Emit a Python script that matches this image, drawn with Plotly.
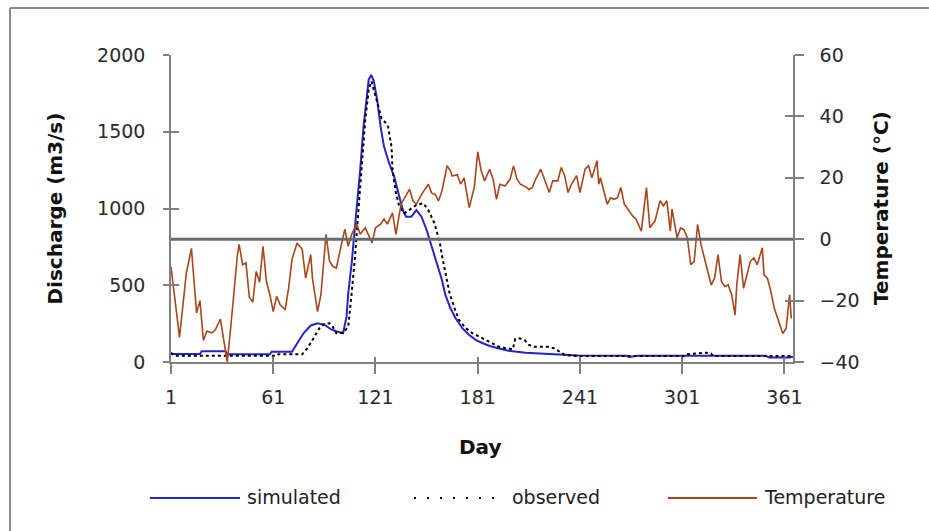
import plotly.graph_objects as go

# ---------------- data ----------------
temp_days = [1, 3, 6, 10, 13, 16, 18, 20, 22, 25, 27, 30, 32, 34, 36, 38, 40, 41, 43, 45,
             47, 49, 51, 53, 55, 57, 59, 61, 63, 65, 68, 70, 72, 75, 78, 80, 83, 84, 87, 89,
             91, 92, 94, 96, 98, 101, 103, 105, 107, 110, 112, 115, 119, 121, 124, 126, 128,
             131, 133, 136, 139, 141, 143, 145, 148, 152, 154, 156, 158, 160, 163, 165, 166,
             169, 171, 173, 176, 179, 181, 183, 185, 188, 190, 192, 194, 197, 200, 202, 204,
             206, 210, 211, 213, 215, 218, 220, 223, 225, 228, 230, 232, 234, 236, 239, 241,
             244, 246, 248, 251, 252, 253, 255, 257, 259, 261, 263, 265, 267, 269, 272, 274,
             277, 280, 282, 285, 288, 290, 292, 294, 295, 298, 300, 302, 304, 306, 308, 310,
             312, 315, 318, 320, 322, 324, 326, 328, 330, 332, 333, 335, 337, 339, 341, 343,
             345, 348, 349, 351, 353, 355, 357, 360, 362, 364, 365]
temp_c = [-9, -18, -32, -11, -3, -24, -20, -33, -30, -30.5, -29.5, -26, -33, -40, -29, -16,
          -5, -1.7, -8.3, -7.7, -19, -20.5, -10.5, -14, -2.3, -13.8, -18, -23.6, -18.6, -21.3,
          -23, -16, -6.6, -1.2, -3.3, -12.7, -5, -12.7, -23.6, -18, -2.8, 1.6, -7.2, -8.9,
          -9.4, -2.3, 3.3, -2.3, 1.6, 4.9, 1.6, 3.7, -1.2, 3.7, 4.9, 6.6, 4.9, 8.6, 1.6, 11.4,
          14.6, 16.3, 12.5, 11.4, 14.6, 17.9, 15, 14.6, 12.5, 15.7, 23.9, 22.3, 20.6, 21, 17.9,
          20, 10.3, 17, 28.5, 22.3, 19, 22.8, 19.6, 13, 17.9, 17.3, 19.6, 23.9, 19.6, 17.9,
          16.8, 16.2, 16.8, 19.6, 22.8, 19.6, 15.2, 19, 19, 23.4, 20.7, 15.2, 17.9, 20.7, 15.2,
          22.8, 23.9, 20, 25.6, 17.9, 20, 15.7, 11.4, 13.5, 13, 13.5, 16.8, 11.4, 9.7, 7.5,
          6.4, 2.6, 16.8, 3.7, 5.9, 12.5, 10.9, 12.5, 2.6, 9.8, 0.4, 3.7, 3.1, 0.4, -8.3, -7.3,
          4.8, -1.7, -8.3, -14.9, -12.7, -5, -13.8, -15.4, -14.9, -18.1, -24.7, -14.9, -5, -16,
          -11.6, -7.2, -6.1, -8.3, -2.8, -11.6, -12.7, -17, -22.5, -25.8, -30.7, -29, -18.1,
          -25.8]

sim_days = [1, 18, 19, 33, 34, 59, 60, 72, 75, 79, 83, 87, 91, 95, 98, 102, 104, 105, 107,
            110, 112, 114, 116, 117, 118.5, 120, 122, 124, 126, 129, 132, 135, 137, 139, 142,
            145, 148, 151, 154, 157, 160, 162, 165, 168, 172, 176, 180, 184, 188, 193, 199,
            209, 229, 240, 268, 270, 275, 350, 352, 364, 366]
sim_q = [52, 52, 70, 70, 50, 50, 67, 67, 120, 190, 238, 252, 243, 212, 200, 187, 295, 447,
         643, 990, 1251, 1533, 1750, 1840, 1870, 1830, 1707, 1533, 1403, 1295, 1207, 1077,
         990, 947, 947, 990, 947, 860, 751, 643, 534, 437, 350, 285, 220, 176, 143, 122, 104,
         89, 74, 61, 50, 42, 40, 33, 40, 40, 30, 30, 35]

obs_days = [1, 3, 63, 64, 78, 81, 84, 88, 91, 94, 96, 98, 102, 104, 105, 107, 109, 111, 113,
            115, 117, 118.6, 120.6, 122.5, 124.5, 126.4, 128.4, 130.4, 131, 133, 135, 138,
            142, 145, 149, 152, 155.6, 158.6, 160.5, 162.5, 164.5, 167.4, 170, 174, 178, 182,
            186, 190, 194, 201.6, 203, 205.6, 208.5, 211, 214, 222, 226, 229, 232, 240, 302,
            303, 312, 315, 318, 319, 366]
obs_q = [61, 41, 41, 50, 50, 89, 143, 219, 248, 252, 230, 187, 190, 215, 230, 447, 686, 990,
         1316, 1577, 1772, 1830, 1750, 1663, 1588, 1566, 1533, 1403, 1251, 1099, 1012, 969,
         1001, 1023, 1034, 990, 903, 784, 665, 556, 447, 350, 274, 220, 187, 165, 143, 122,
         96, 83, 150, 154, 143, 111, 100, 100, 89, 67, 46, 39, 39, 50, 55, 61, 55, 39, 39]

x_ticks = [1, 61, 121, 181, 241, 301, 361]
q_ticks = [0, 500, 1000, 1500, 2000]
t_ticks = [-40, -20, 0, 20, 40, 60]

# ---------------- styling ----------------
FONT = "DejaVu Sans"
BLUE = "#2424c8"
BROWN = "#a8461a"
AXIS = "#808080"

fig = go.Figure()
fig.add_trace(go.Scatter(x=sim_days, y=sim_q, mode="lines", name="simulated",
                         line=dict(color=BLUE, width=2), showlegend=False))
fig.add_trace(go.Scatter(x=obs_days, y=obs_q, mode="lines", name="observed",
                         line=dict(color="black", width=2, dash="dot"), showlegend=False))
fig.add_trace(go.Scatter(x=temp_days, y=temp_c, mode="lines", name="Temperature",
                         line=dict(color=BROWN, width=1.6), yaxis="y2", showlegend=False))
# empty helper traces for the inner halves of the crossing tick marks
fig.add_trace(go.Scatter(x=[], y=[], xaxis="x3", yaxis="y", showlegend=False, hoverinfo="skip"))
fig.add_trace(go.Scatter(x=[], y=[], xaxis="x", yaxis="y3", showlegend=False, hoverinfo="skip"))
fig.add_trace(go.Scatter(x=[], y=[], xaxis="x", yaxis="y4", showlegend=False, hoverinfo="skip"))

tickfont = dict(family=FONT, size=19, color="#2a2a2a")
xr = [1, 366]
fig.update_layout(
    width=929, height=531,
    margin=dict(l=171, r=136, t=55, b=169, pad=0),
    paper_bgcolor="white", plot_bgcolor="white",
    font=dict(family=FONT),
    xaxis=dict(range=xr, tickvals=x_ticks, ticks="outside", ticklen=10, tickwidth=1.5,
               tickcolor=AXIS, showline=True, linecolor=AXIS, linewidth=1.5,
               showgrid=False, zeroline=False, tickfont=tickfont, ticklabelstandoff=7),
    xaxis3=dict(range=xr, overlaying="x", anchor="y", tickvals=x_ticks, ticks="inside",
                ticklen=5, tickwidth=1.5, tickcolor=AXIS, showticklabels=False,
                showline=False, showgrid=False, zeroline=False),
    yaxis=dict(range=[0, 2000], tickvals=q_ticks, ticks="outside", ticklen=6, tickwidth=1.5,
               tickcolor=AXIS, showline=True, linecolor=AXIS, linewidth=1.5,
               showgrid=False, zeroline=False, tickfont=tickfont, ticklabelstandoff=14),
    yaxis3=dict(range=[0, 2000], overlaying="y", anchor="x", side="left", tickvals=q_ticks,
                ticks="inside", ticklen=8, tickwidth=1.5, tickcolor=AXIS,
                showticklabels=False, showline=False, showgrid=False, zeroline=False),
    yaxis2=dict(range=[-40, 60], tickvals=t_ticks, overlaying="y", side="right", anchor="x",
                ticks="outside", ticklen=9, tickwidth=1.5, tickcolor=AXIS, showline=True,
                linecolor=AXIS, linewidth=1.5, showgrid=False, zeroline=False,
                tickfont=tickfont, ticklabelstandoff=12),
    yaxis4=dict(range=[-40, 60], overlaying="y", side="right", anchor="x", tickvals=t_ticks,
                ticks="inside", ticklen=8, tickwidth=1.5, tickcolor=AXIS,
                showticklabels=False, showline=False, showgrid=False, zeroline=False),
)

# 0 °C reference line
fig.add_shape(type="line", xref="paper", x0=0, x1=1, yref="y2", y0=0, y1=0,
              line=dict(color="#6a6a6a", width=3), layer="above")

# outer frame of the original chart object: only its top and left edges are in view
FRAME = dict(color="#8a8a8a", width=2)
fig.add_shape(type="line", xref="paper", yref="paper", x0=-0.2588, x1=1.2186,
              y0=1.1531, y1=1.1531, line=FRAME, layer="below")
fig.add_shape(type="line", xref="paper", yref="paper", x0=-0.2588, x1=-0.2588,
              y0=1.1531, y1=-0.5505, line=FRAME, layer="below")

titlefont = dict(family=FONT, size=20, color="#111111", weight="bold")
fig.add_annotation(text="Discharge (m3/s)", xref="paper", yref="paper", x=-0.1865, y=0.50,
                   textangle=-90, showarrow=False, font=titlefont,
                   xanchor="center", yanchor="middle")
fig.add_annotation(text="Temperature (°C)", xref="paper", yref="paper", x=1.1407, y=0.50,
                   textangle=-90, showarrow=False, font=titlefont,
                   xanchor="center", yanchor="middle")
fig.add_annotation(text="Day", xref="paper", yref="paper", x=0.4968, y=-0.277,
                   showarrow=False, font=titlefont, xanchor="center", yanchor="middle")

# hand-drawn legend (as in the original, long sample lines)
ly = -0.443
legfont = dict(family=FONT, size=19, color="#222222")
legend_items = [
    ("simulated", dict(color=BLUE, width=2), -0.0338, 0.1109, 0.119),
    ("observed", dict(color="black", width=2, dash="2px,11px"), 0.3907, 0.537, 0.545),
    ("Temperature", dict(color=BROWN, width=2), 0.799, 0.942, 0.950),
]
for label, ln, xa, xb, xt in legend_items:
    fig.add_shape(type="line", xref="paper", yref="paper", x0=xa, x1=xb, y0=ly, y1=ly, line=ln)
    fig.add_annotation(text=label, xref="paper", yref="paper", x=xt, y=ly + 0.004,
                       showarrow=False, font=legfont, xanchor="left", yanchor="middle")

fig.write_html(
    "out.html",
    post_script=("document.documentElement.style.overflow='hidden';"
                 "document.body.style.overflow='hidden';document.body.style.margin='0';"),
)
